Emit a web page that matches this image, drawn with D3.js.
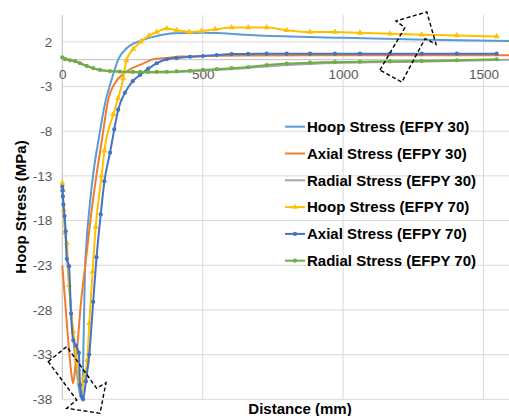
<!DOCTYPE html>
<html>
<head>
<meta charset="utf-8">
<script src="https://cdn.jsdelivr.net/npm/d3@7"></script>
<style>
  body { margin: 0; background: #fff; }
  svg { display: block; font-family: "Liberation Sans", Arial, sans-serif; }
</style>
</head>
<body>
<div id="chart"></div>
<script>
// distance (mm), stress (MPa)
const hoop30 = [[0,-14.8],[5,-17],[12,-20],[20,-23.5],[30,-27.5],[40,-31.5],[52,-35],[62,-37.3],[67,-37.8],[72,-36.5],[76,-31],[80,-24.5],[86,-20.5],[96,-16.8],[110,-12.8],[130,-8.8],[155,-4.5],[176,-2.2],[199,0],[230,1.3],[277,2.1],[330,2.6],[400,2.95],[500,3.0],[700,2.7],[1000,2.45],[1300,2.22],[1600,2.08]];
const axial30 = [[0,-23],[10,-27],[20,-31],[30,-34.5],[38,-36.2],[46,-34.5],[55,-31.5],[67,-27],[82,-23],[100,-18],[119,-13.5],[141,-9],[164,-4.4],[188,-2.6],[223,-1.45],[283,-0.5],[324,0.05],[372,0.2],[419,0.35],[490,0.4],[650,0.47],[900,0.5],[1600,0.5]];
const radial30 = [[0,0.3],[20,0.05],[50,-0.2],[80,-0.6],[120,-1.05],[170,-1.3],[250,-1.42],[350,-1.42],[450,-1.32],[550,-1.15],[650,-0.95],[750,-0.7],[900,-0.45],[1100,-0.3],[1300,-0.2],[1600,0.0]];
const hoop70 = [[0,-13.8],[2,-14.6],[5,-16.8],[10,-19.4],[16,-20.5],[24,-25.2],[39,-30.4],[50,-33.5],[60,-36],[68,-36.9],[78,-35.5],[89,-33.6],[96,-29.5],[108,-23.7],[119,-18.7],[140,-13.0],[150,-10.2],[182,-6.1],[199,-4.3],[217,-2.1],[228,-0.1],[253,1.2],[279,2.0],[309,2.7],[336,3.1],[372,3.5],[407,3.3],[452,3.1],[496,3.2],[544,3.4],[603,3.6],[662,3.6],[728,3.6],[799,3.3],[882,3.1],[971,3.1],[1060,3.0],[1167,2.9],[1280,2.8],[1405,2.7],[1547,2.6]];
const axial70 = [[0,-14.2],[1,-14.6],[2,-15.3],[4,-16.2],[8,-17.5],[12,-19.2],[16,-22.3],[24,-23.1],[31,-28.4],[39,-31.4],[49,-32],[59,-32.8],[63,-36.4],[69,-37.7],[74,-38],[84,-36],[96,-33],[110,-27.1],[122,-22.1],[137,-17.3],[150,-13.6],[170,-10.4],[185,-7.8],[199,-5.6],[223,-3.7],[251,-2.4],[277,-1.7],[306,-1.0],[336,-0.4],[372,0.05],[407,0.18],[455,0.33],[501,0.4],[550,0.52],[603,0.63],[662,0.64],[728,0.67],[799,0.67],[882,0.67],[971,0.67],[1060,0.67],[1167,0.67],[1280,0.67],[1405,0.67],[1547,0.67]];
const radial70 = [[0,0.25],[10,0.05],[27,-0.07],[45,-0.15],[63,-0.4],[87,-0.7],[110,-0.95],[134,-1.15],[170,-1.27],[205,-1.33],[251,-1.36],[277,-1.37],[306,-1.37],[336,-1.36],[372,-1.35],[407,-1.32],[455,-1.25],[501,-1.15],[550,-1.05],[603,-0.95],[662,-0.82],[728,-0.6],[799,-0.44],[882,-0.33],[971,-0.26],[1060,-0.24],[1167,-0.18],[1280,-0.15],[1405,-0.07],[1547,0.05]];

const names = ["Hoop Stress (EFPY 30)","Axial Stress (EFPY 30)","Radial Stress (EFPY 30)","Hoop Stress (EFPY 70)","Axial Stress (EFPY 70)","Radial Stress (EFPY 70)"];
const colors = ["#5B9BD5","#ED7D31","#A5A5A5","#FFC000","#4472C4","#70AD47"];
const xTicks = [0, 500, 1000, 1500];
const yTicks = [2, -3, -8, -13, -18, -23, -28, -33, -38];

// dashed block arrows (annotations) in data units
const arrowTop = [[1131,-1.16],[1220,3.59],[1188,4.33],[1298,5.34],[1331,1.72],[1292,2.36],[1209,-2.51]];
const arrowBottom = [[-50,-33.78],[15.7,-32.1],[122.5,-36.77],[155.6,-36.14],[134.3,-39.57],[15.7,-39.0],[51.3,-38.08]];

const W = 509, H = 416;
const x = d3.scaleLinear().domain([0, 1600]).range([62.3, 511.6]);
const y = d3.scaleLinear().domain([-38, 5]).range([399.3, 15]);

const svg = d3.select("#chart").append("svg")
  .attr("width", W).attr("height", H);

// gridlines
svg.append("g").selectAll("line").data(yTicks).join("line")
  .attr("x1", x(0)).attr("x2", W)
  .attr("y1", d => y(d)).attr("y2", d => y(d))
  .attr("stroke", "#D9D9D9").attr("stroke-width", 1);
svg.append("g").selectAll("line").data(xTicks.slice(1)).join("line")
  .attr("x1", d => x(d)).attr("x2", d => x(d))
  .attr("y1", y(5)).attr("y2", y(-38))
  .attr("stroke", "#D9D9D9").attr("stroke-width", 1);

// axis lines
svg.append("line").attr("x1", x(0)).attr("x2", x(0)).attr("y1", y(5)).attr("y2", y(-38))
  .attr("stroke", "#BFBFBF");
svg.append("line").attr("x1", x(0)).attr("x2", W).attr("y1", y(0)).attr("y2", y(0))
  .attr("stroke", "#BFBFBF");

// plain hyphen-minus and no thousands separator, as in the picture
const fmt = d => String(d);
const xAxis = svg.append("g")
  .attr("transform", `translate(0,${y(0)})`)
  .call(d3.axisBottom(x).tickValues(xTicks).tickFormat(fmt).tickSize(0).tickPadding(10));
const yAxis = svg.append("g")
  .attr("transform", `translate(${x(0)},0)`)
  .call(d3.axisLeft(y).tickValues(yTicks).tickFormat(fmt).tickSize(0).tickPadding(10));
[xAxis, yAxis].forEach(g => {
  g.select(".domain").remove();
  g.selectAll("text").attr("fill", "#595959").style("font-size", "13.5px")
    .style("font-family", "'Liberation Sans', Arial, sans-serif");
});

// series
const series = [hoop30, axial30, radial30, hoop70, axial70, radial70];
const line = d3.line().x(d => x(d[0])).y(d => y(d[1])).curve(d3.curveMonotoneX);

series.forEach((s, i) => {
  svg.append("path").datum(s)
    .attr("d", line).attr("fill", "none")
    .attr("stroke", colors[i]).attr("stroke-width", 2);
  if (i >= 3) {
    const sym = i === 3 ? d3.symbolTriangle : d3.symbolCircle;
    const sz = i === 3 ? 16 : 14;
    svg.append("g").selectAll("path").data(s).join("path")
      .attr("transform", d => `translate(${x(d[0])},${y(d[1])})`)
      .attr("d", d3.symbol().type(sym).size(sz))
      .attr("fill", colors[i]);
  }
});

// annotation arrows
const poly = d3.line().x(d => x(d[0])).y(d => y(d[1]));
[arrowTop, arrowBottom].forEach(a => {
  svg.append("path").attr("d", poly(a) + "Z")
    .attr("fill", "none").attr("stroke", "#000")
    .attr("stroke-width", 1.4).attr("stroke-dasharray", "4,2.5");
});

// legend
const legend = svg.append("g");
names.forEach((n, i) => {
  const cy = 126.7 + i * 26.8;
  legend.append("line").attr("x1", 285).attr("x2", 305).attr("y1", cy).attr("y2", cy)
    .attr("stroke", colors[i]).attr("stroke-width", 2);
  if (i >= 3) {
    legend.append("path")
      .attr("transform", `translate(295,${cy})`)
      .attr("d", d3.symbol().type(i === 3 ? d3.symbolTriangle : d3.symbolCircle).size(14))
      .attr("fill", colors[i]);
  }
  legend.append("text").attr("x", 307).attr("y", cy + 5.3)
    .style("font-size", "15px").style("font-weight", "bold").attr("fill", "#000")
    .text(n);
});

// axis titles
svg.append("text").attr("x", 300).attr("y", 414).attr("text-anchor", "middle")
  .style("font-size", "15px").style("font-weight", "bold").attr("fill", "#000")
  .text("Distance (mm)");
svg.append("text").attr("transform", "translate(26,207) rotate(-90)").attr("text-anchor", "middle")
  .style("font-size", "15px").style("font-weight", "bold").attr("fill", "#000")
  .text("Hoop Stress (MPa)");
</script>
</body>
</html>
